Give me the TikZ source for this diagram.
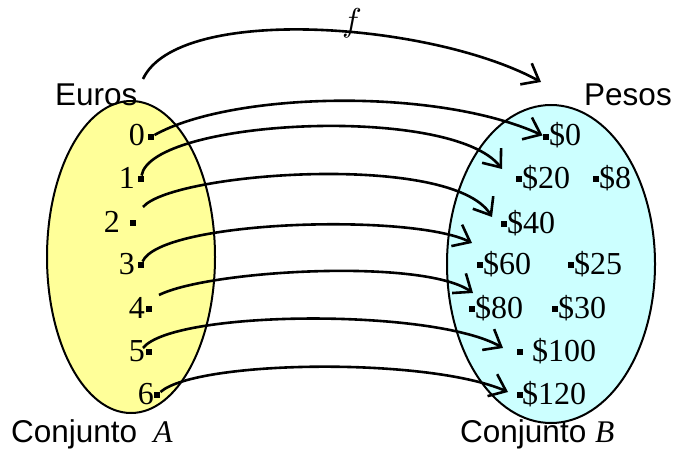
\documentclass[tikz,border=0pt]{standalone}
\usepackage{fontspec}
\setmainfont{Liberation Serif}
\setsansfont{Liberation Sans}
\usetikzlibrary{arrows.meta}
\definecolor{setA}{HTML}{FFFF99}
\definecolor{setB}{HTML}{CCFFFF}
\tikzset{
  pt/.style={fill=black,inner sep=0pt,minimum size=6.5pt,shape=rectangle},
  lbl/.style={inner sep=0pt,font=\fontsize{32}{32}\selectfont},
  slbl/.style={inner sep=0pt,font=\fontsize{31.5}{32}\selectfont\sffamily},
  setshape/.style={draw=black,line width=2pt},
  mapto/.style={draw=black,line width=2.6pt,-{Straight Barb[length=15pt,width=24pt]}}
}
\begin{document}
\begin{tikzpicture}[x=1pt,y=-1pt]
\useasboundingbox (0,0) rectangle (676,449);
% sets
\draw[setshape,fill=setA] (131,257) ellipse [x radius=84, y radius=156];
\draw[setshape,fill=setB] (551,264) ellipse [x radius=104, y radius=159];
% points of A
\node[pt] (a0) at (151,137) {};
\node[pt] (a1) at (141,179) {};
\node[pt] (a2) at (133,223) {};
\node[pt] (a3) at (141,265) {};
\node[pt] (a4) at (149,309) {};
\node[pt] (a5) at (149,352) {};
\node[pt] (a6) at (157,395) {};
\node[lbl,anchor=base east] (la0) at (145,146) {0};
\node[lbl,anchor=base east] (la1) at (135,188) {1};
\node[lbl,anchor=base east] (la2) at (120,232) {2};
\node[lbl,anchor=base east] (la3) at (135,274) {3};
\node[lbl,anchor=base east] (la4) at (145,318) {4};
\node[lbl,anchor=base east] (la5) at (145,361) {5};
\node[lbl,anchor=base east] (la6) at (154,404) {6};
% points of B
\node[pt] (b0) at (546,137) {};
\node[pt] (b20) at (519,179) {};
\node[pt] (b8) at (596,179) {};
\node[pt] (b40) at (504,224) {};
\node[pt] (b60) at (480,265) {};
\node[pt] (b25) at (571,265) {};
\node[pt] (b80) at (472,309) {};
\node[pt] (b30) at (555,309) {};
\node[pt] (b100) at (520,352) {};
\node[pt] (b120) at (520,395) {};
\node[lbl,anchor=base west] (lb0) at (549,146) {\$0};
\node[lbl,anchor=base west] (lb20) at (522,188) {\$20};
\node[lbl,anchor=base west] (lb8) at (599,188) {\$8};
\node[lbl,anchor=base west] (lb40) at (507,233) {\$40};
\node[lbl,anchor=base west] (lb60) at (483,274) {\$60};
\node[lbl,anchor=base west] (lb25) at (574,274) {\$25};
\node[lbl,anchor=base west] (lb80) at (475,318) {\$80};
\node[lbl,anchor=base west] (lb30) at (558,318) {\$30};
\node[lbl,anchor=base west] (lb100) at (532,361) {\$100};
\node[lbl,anchor=base west] (lb120) at (522,404) {\$120};
% titles
\node[slbl,anchor=base west] (euros) at (55,106) {Euros};
\node[slbl,anchor=base west] (pesos) at (584,106) {Pesos};
\node[slbl,anchor=base west] (conjA) at (11,442) {Conjunto\hspace{16pt}{\rmfamily\itshape A}};
\node[slbl,anchor=base west] (conjB) at (460,442) {Conjunto {\rmfamily\itshape B}};
% connector end points
\coordinate (ftop0) at (143,79);
\coordinate (ftop1) at (541,82);
\coordinate (e1) at (502,169);
\coordinate (s2) at (143,207);
\coordinate (e2) at (492,217);
\coordinate (e3) at (472,243);
\coordinate (s4) at (159,295);
\coordinate (e4) at (473,293);
\coordinate (s5) at (143,348);
\coordinate (e5) at (503,348);
\coordinate (e6) at (508,392);
% f arc
\draw[mapto] (ftop0) .. controls +(35,-75) and +(-110,-60) .. (ftop1);
\node[inner sep=0pt,anchor=base] (flbl) at (352,32) {\scalebox{3.3}{$f$}};
% mappings
\draw[mapto] (a0) .. controls +(80,-45) and +(-110,-50) .. (b0);
\draw[mapto] (a1) .. controls +(10,-60) and +(-50,-65) .. (e1);
\draw[mapto] (s2) .. controls +(30,-35) and +(-40,-65) .. (e2);
\draw[mapto] (a3) .. controls +(20,-45) and +(-60,-30) .. (e3);
\draw[mapto] (s4) .. controls +(50,-25) and +(-50,-35) .. (e4);
\draw[mapto] (s5) .. controls +(30,-38) and +(-70,-40) .. (e5);
\draw[mapto] (a6) .. controls +(40,-35) and +(-80,-35) .. (e6);
\end{tikzpicture}
\end{document}
